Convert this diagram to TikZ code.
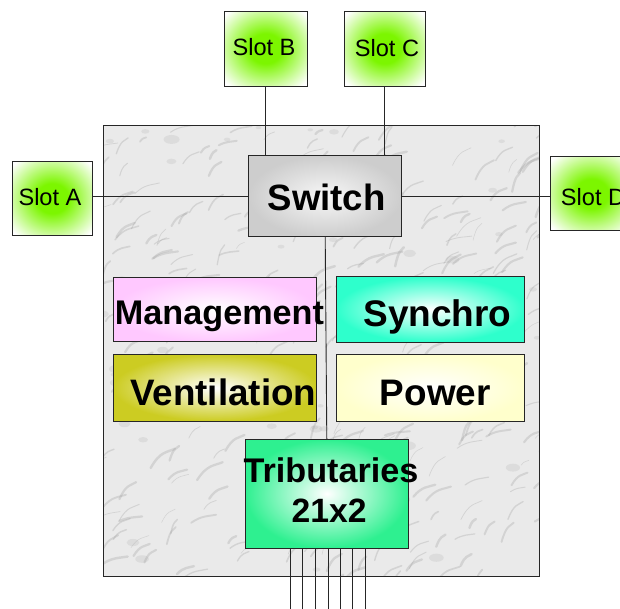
\documentclass[tikz,border=0pt]{standalone}
\usepackage{fontspec}
\setmainfont{Liberation Sans}
\definecolor{slotgreen}{HTML}{7CF600}
\definecolor{mgmtpink}{HTML}{FFC8FF}
\definecolor{syncaqua}{HTML}{2EFFCC}
\definecolor{ventolive}{HTML}{CCCC22}
\definecolor{poweryellow}{HTML}{FFFFCC}
\definecolor{tribgreen}{HTML}{2EF090}
\definecolor{switchgray}{HTML}{CDCDCD}
\definecolor{marble}{HTML}{EAEAEA}
\definecolor{streak}{HTML}{A0A0A0}
\pgfdeclareradialshading{slotshade}{\pgfpoint{0bp}{0bp}}{color(0bp)=(slotgreen); color(10bp)=(slotgreen); color(33bp)=(white); color(50bp)=(white)}
\begin{document}
\begin{tikzpicture}[x=1pt,y=-1pt,
  boxbase/.style={draw=black!85, line width=1pt, rectangle, inner sep=0pt},
  slotbox/.style={boxbase, shading=slotshade},
  slottext/.style={anchor=base, inner sep=0pt, font=\fontsize{23.6}{28}\selectfont},
  bigtext/.style={anchor=base, inner sep=0pt, font=\bfseries\fontsize{#1}{#1}\selectfont},
  link/.style={draw=black!85, line width=0.9pt}]
\clip (0,0) rectangle (620,608);
\fill[white] (0,0) rectangle (620,608);

% chassis with marble look
\node[rectangle, fill=marble, inner sep=0pt, minimum width=435.5pt, minimum height=450pt] (chassis) at (321.75,351) {};
\begin{scope}
  \clip (104,126) rectangle (539.5,576);
  \pgfmathsetseed{17}
  \foreach \i in {1,...,320}{
    \pgfmathsetmacro\xx{90+460*rnd}
    \pgfmathsetmacro\yy{120+470*rnd}
    \pgfmathsetmacro\dx{6+20*rnd}
    \pgfmathsetmacro\dy{4+16*rnd}
    \pgfmathsetmacro\ww{0.5+2.0*rnd}
    \draw[streak, line width=\ww pt, opacity=0.3, line cap=round]
      (\xx,\yy) .. controls ++(\dx*0.4,-\dy*0.9) and ++(-\dx*0.3,\dy*0.2) .. ++(\dx,-\dy);
  }
  \foreach \i in {1,...,60}{
    \pgfmathsetmacro\xx{100+445*rnd}
    \pgfmathsetmacro\yy{120+460*rnd}
    \pgfmathsetmacro\rr{1.5+3*rnd}
    \fill[streak, opacity=0.18] (\xx,\yy) ellipse ({\rr*1.8} and \rr);
  }
\end{scope}
\draw[draw=black!85, line width=1pt] (chassis.north west) rectangle (chassis.south east);

% boxes
\node[slotbox, minimum width=80.5pt, minimum height=74.7pt] (slotA) at (52.25,198.35) {};
\node[slotbox, minimum width=83pt, minimum height=75pt] (slotB) at (265.5,48.5) {};
\node[slotbox, minimum width=80.6pt, minimum height=75pt] (slotC) at (384.7,48.5) {};
\node[slotbox, minimum width=83pt, minimum height=74pt] (slotD) at (591.5,193.7) {};
\node[boxbase, inner color=white!97!black, outer color=switchgray, minimum width=153pt, minimum height=81pt] (switch) at (325.2,196.2) {};
\node[boxbase, inner color=white, outer color=mgmtpink, minimum width=203.4pt, minimum height=64pt] (mgmt) at (215,309.7) {};
\node[boxbase, inner color=white, outer color=syncaqua, minimum width=188pt, minimum height=65.3pt] (sync) at (430.3,309.35) {};
\node[boxbase, inner color=white, outer color=ventolive, minimum width=203.4pt, minimum height=66.7pt] (vent) at (215,387.65) {};
\node[boxbase, inner color=white, outer color=poweryellow, minimum width=188.4pt, minimum height=67.4pt] (power) at (430.5,388) {};
\node[boxbase, inner color=white, outer color=tribgreen, minimum width=163pt, minimum height=108.7pt] (trib) at (326.8,493.65) {};

% connectors
\draw[link] (slotA.east |- switch.west) -- (switch.west);
\draw[link] (switch.east) -- (slotD.west |- switch.east);
\draw[link] (slotB.south) -- (slotB.south |- switch.north);
\draw[link] (slotC.south) -- (slotC.south |- switch.north);
\draw[link] (switch.south) -- (trib.north);
\foreach \k/\xx in {1/290.7,2/302.7,3/315.3,4/328,5/340,6/352.3,7/365}{
  \coordinate (out\k) at (\xx,612);
  \draw[link] (trib.south -| out\k) -- (out\k);
}

% texts
\node[slottext] (tA) at (50,205) {Slot A};
\node[slottext] (tB) at (264,55) {Slot B};
\node[slottext] (tC) at (387,56.7) {Slot C};
\node[slottext, anchor=base west] (tD) at (560.7,205.7) {Slot D};
\node[bigtext=36.6] (tSwitch) at (326.7,210) {Switch};
\node[bigtext=34.2] (tMgmt) at (219.5,324) {Management};
\node[bigtext=37] (tSync) at (437.5,326) {Synchro};
\node[bigtext=36.8] (tVent) at (223.3,405.7) {Ventilation};
\node[bigtext=36.9] (tPower) at (435.3,405.7) {Power};
\node[bigtext=34.2] (tTrib1) at (331,482.7) {Tributaries};
\node[bigtext=33.7] (tTrib2) at (329.2,522.7) {21x2};
\end{tikzpicture}
\end{document}
